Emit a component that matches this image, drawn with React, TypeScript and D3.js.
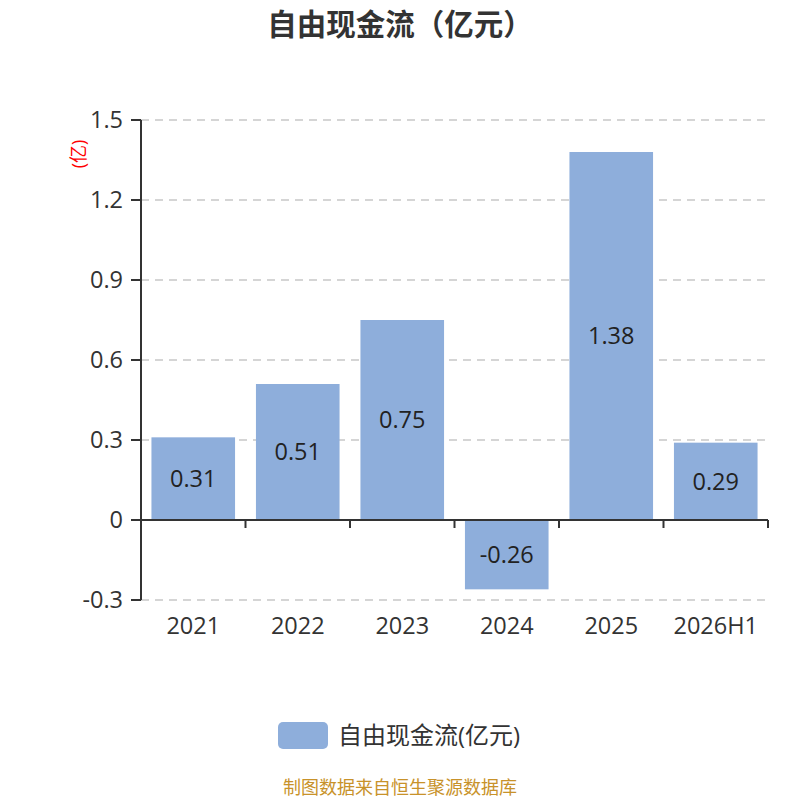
import * as d3 from "d3";

const categories = ["2021", "2022", "2023", "2024", "2025", "2026H1"];
const values = [0.31, 0.51, 0.75, -0.26, 1.38, 0.29];
const yTicks = [-0.3, 0, 0.3, 0.6, 0.9, 1.2, 1.5];
const seriesName = "自由现金流(亿元)";

const W = 800;
const H = 800;
const margin = { left: 141, right: 32, top: 120, bottom: 200 };
const barColor = "#8eaedb";
const font = "'Open Sans', 'Noto Sans CJK SC', sans-serif";

export default function App() {
    const x = d3.scaleBand().domain(categories).range([margin.left, W - margin.right]).paddingInner(0.2).paddingOuter(0.1);
    const y = d3.scaleLinear().domain([-0.3, 1.5]).range([H - margin.bottom, margin.top]);
    const step = x.step();
    const x0 = margin.left;
    const x1 = W - margin.right;

    return (
        <svg width={W} height={H} style={{ display: "block", position: "absolute", left: 0, top: 0 }} fontFamily={font}>
            <text x={W / 2} y={35} textAnchor="middle" fontSize={29.5} fontWeight="bold" fill="#333">
                自由现金流（亿元）
            </text>

            {/* grid */}
            {yTicks.map(t => (
                <line key={t} x1={x0} x2={x1} y1={y(t)} y2={y(t)} stroke="#c8c8c8" strokeDasharray="8,6" strokeWidth={1.5} />
            ))}

            {/* bars */}
            {categories.map((c, i) => {
                const v = values[i];
                const top = Math.min(y(v), y(0));
                const h = Math.abs(y(v) - y(0));
                return (
                    <g key={c}>
                        <rect x={x(c)!} y={top} width={x.bandwidth()} height={h} fill={barColor} />
                        <text x={x(c)! + x.bandwidth() / 2} y={top + h / 2} dy="0.35em" textAnchor="middle" fontSize={23.5} fill="#222">
                            {v.toFixed(2)}
                        </text>
                    </g>
                );
            })}

            {/* y axis */}
            <line x1={x0} x2={x0} y1={y(1.5)} y2={y(-0.3)} stroke="#333" strokeWidth={2} />
            {yTicks.map(t => (
                <g key={t}>
                    <line x1={x0 - 10} x2={x0} y1={y(t)} y2={y(t)} stroke="#333" strokeWidth={2} />
                    <text x={x0 - 18} y={y(t)} dy="0.35em" textAnchor="end" fontSize={23.5} fill="#333">
                        {t === 0 ? "0" : t.toFixed(1)}
                    </text>
                </g>
            ))}
            <text transform={`translate(79,154) rotate(-90)`} textAnchor="middle" fontSize={18} fill="#f00" dy="0.35em">
                (亿)
            </text>

            {/* x axis at zero */}
            <line x1={x0} x2={x1} y1={y(0)} y2={y(0)} stroke="#333" strokeWidth={2} />
            {categories.map((c, i) => (
                <line key={c} x1={x0 + step * (i + 1)} x2={x0 + step * (i + 1)} y1={y(0)} y2={y(0) + 8} stroke="#333" strokeWidth={2} />
            ))}
            {categories.map(c => (
                <text key={c} x={x(c)! + x.bandwidth() / 2} y={y(-0.3) + 26} dy="0.35em" textAnchor="middle" fontSize={23.5} fill="#333">
                    {c}
                </text>
            ))}

            {/* legend */}
            <rect x={278} y={722} width={50} height={27} rx={5} fill={barColor} />
            <text x={338} y={735.5} dy="0.35em" fontSize={24} fill="#333">{seriesName}</text>

            <text x={W / 2} y={794} textAnchor="middle" fontSize={18} fill="#c8922a">
                制图数据来自恒生聚源数据库
            </text>
        </svg>
    );
}
